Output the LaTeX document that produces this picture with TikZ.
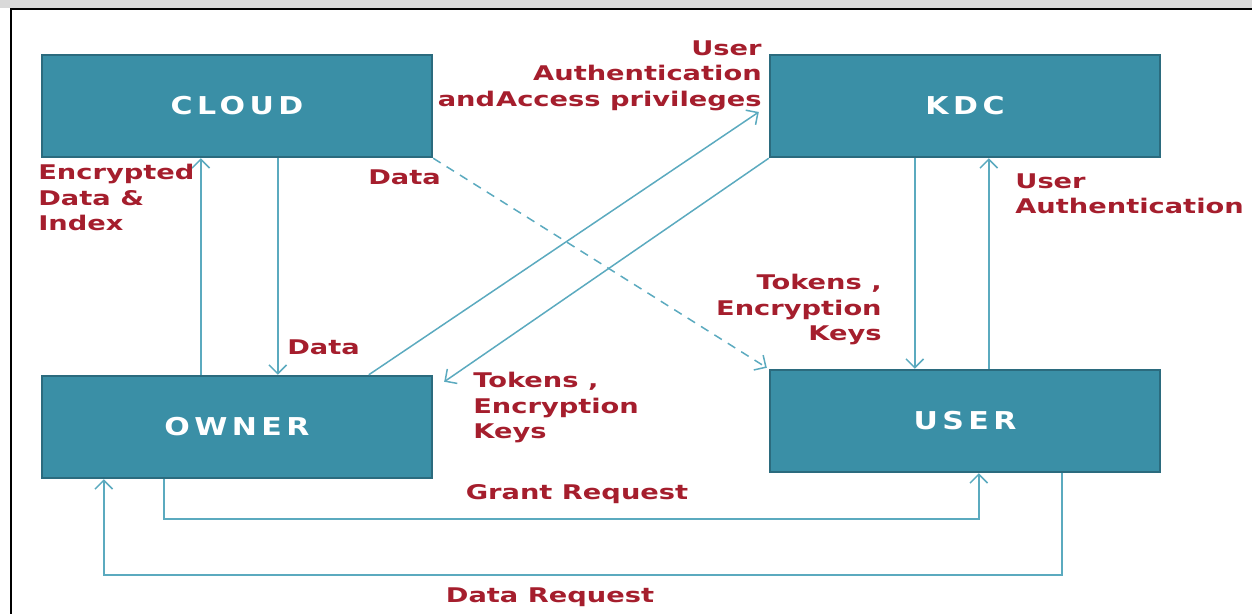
\documentclass[tikz,border=0pt]{standalone}
\usepackage{fontspec}
\usetikzlibrary{arrows.meta,calc}
\newfontfamily\lblfont[FakeStretch=1.35]{DejaVu Sans Bold}
\newfontfamily\boxfont[FakeStretch=1.22,LetterSpace=18]{DejaVu Sans Bold}
\definecolor{boxfill}{HTML}{3A8FA6}
\definecolor{boxline}{HTML}{2B6B7E}
\definecolor{arrcol}{HTML}{5BAABF}
\definecolor{lblred}{HTML}{A51E2D}
\tikzset{
  box/.style={draw=boxline, line width=1.4pt, fill=boxfill, minimum width=7.8cm, minimum height=2.04cm,
    inner sep=0pt, text=white, font=\boxfont\fontsize{14}{16}\selectfont},
  arr/.style={draw=arrcol, line width=0.85pt, -{Straight Barb[length=5pt,width=10pt]}},
  darr/.style={arr, dash pattern=on 5pt off 4pt},
  lbl/.style={text=lblred, inner sep=0pt, font=\lblfont\fontsize{11.5}{14.5}\selectfont},
}
\begin{document}
\begin{tikzpicture}[x=0.02cm,y=-0.02cm]
\useasboundingbox (0,0) rectangle (1252,614);
\fill[gray!30] (0,0) rectangle (1252,8);
\draw[black, line width=1.3pt] (11,614) -- (11,9) -- (1252,9);

\node[box] (cloud) at (237,106) {CLOUD};
\node[box] (kdc) at (965,106) {KDC};
\node[box] (owner) at (237,427) {OWNER};
\node[box] (user) at (965,421) {USER};

% owner <-> cloud
\coordinate (oc1) at ($(owner.north west)+(160,0)$);
\draw[arr] (oc1) -- (oc1 |- cloud.south);
\coordinate (co1) at ($(cloud.south west)+(237,0)$);
\draw[arr] (co1) -- (co1 |- owner.north);

% owner -> kdc, kdc -> owner
\coordinate (ok1) at ($(owner.north west)+(328,0)$);
\coordinate (ok2) at ($(kdc.west)+(-10,6)$);
\draw[arr] (ok1) -- (ok2);
\coordinate (ko2) at ($(owner.north east)+(11,7)$);
\draw[arr] (kdc.south west) -- (ko2);

% cloud -> user dashed
\coordinate (cu2) at ($(user.north west)+(-2,-1)$);
\draw[darr] (cloud.south east) -- (cu2);

% kdc <-> user
\coordinate (ku1) at ($(kdc.south west)+(146,0)$);
\draw[arr] (ku1) -- (ku1 |- user.north);
\coordinate (uk1) at ($(user.north west)+(220,0)$);
\draw[arr] (uk1) -- (uk1 |- kdc.south);

% grant request
\coordinate (g1) at ($(owner.south west)+(123,0)$);
\coordinate (g2) at ($(user.south west)+(210,0)$);
\draw[arr] (g1) -- ++(0,40) -| (g2);

% data request
\coordinate (d1) at ($(user.south west)+(293,0)$);
\coordinate (d2) at ($(owner.south west)+(63,0)$);
\draw[arr] (d1) -- ++(0,102) -| (d2);

% labels
\node[lbl, align=left, anchor=north west] (l1) at (38,164) {Encrypted\\Data \&\\Index};
\node[lbl, anchor=west] (l2) at (368,177) {Data};
\node[lbl, anchor=west] (l3) at (287,347) {Data};
\node[lbl, align=right, anchor=north east] (l4) at (762,40) {User\\Authentication\\and\kern0.05em Access privileges};
\node[lbl, align=left, anchor=north west] (l5) at (473,372) {Tokens ,\\Encryption\\Keys};
\node[lbl, align=right, anchor=north east] (l6) at (882,274) {Tokens ,\\Encryption\\Keys};
\node[lbl, align=left, anchor=north west] (l7) at (1015,173) {User\\Authentication};
\node[lbl] (l8) at (577,494) {Grant Request};
\node[lbl] (l9) at (550,597) {Data Request};
\end{tikzpicture}
\end{document}
